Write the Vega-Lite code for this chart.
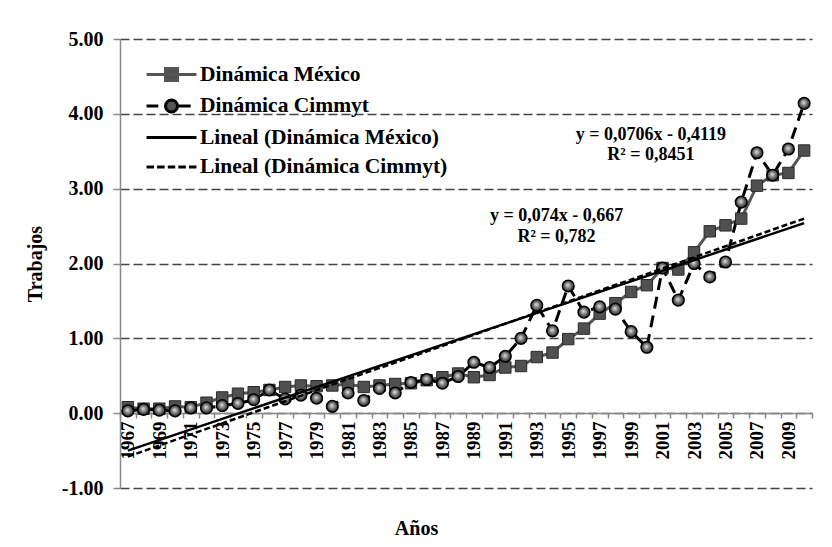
{
  "$schema": "https://vega.github.io/schema/vega-lite/v6.json",
  "width": 692,
  "height": 449,
  "autosize": "none",
  "padding": {"left": 120, "top": 39, "right": 20, "bottom": 59},
  "background": "white",
  "config": {
    "view": {"stroke": null},
    "font": "Liberation Serif",
    "axis": {
      "labelFont": "Liberation Serif",
      "labelFontWeight": "bold",
      "labelFontSize": 19,
      "labelColor": "black",
      "titleFont": "Liberation Serif",
      "titleFontWeight": "bold",
      "titleFontSize": 20,
      "titleColor": "black",
      "domainColor": "#888888",
      "domainWidth": 1.5,
      "tickColor": "#888888",
      "tickWidth": 1.5
    }
  },
  "datasets": {
    "obs": [
      {"year": 1967, "series": "Dinámica México", "value": 0.08},
      {"year": 1968, "series": "Dinámica México", "value": 0.06},
      {"year": 1969, "series": "Dinámica México", "value": 0.06},
      {"year": 1970, "series": "Dinámica México", "value": 0.09},
      {"year": 1971, "series": "Dinámica México", "value": 0.08},
      {"year": 1972, "series": "Dinámica México", "value": 0.14},
      {"year": 1973, "series": "Dinámica México", "value": 0.21},
      {"year": 1974, "series": "Dinámica México", "value": 0.26},
      {"year": 1975, "series": "Dinámica México", "value": 0.28},
      {"year": 1976, "series": "Dinámica México", "value": 0.31},
      {"year": 1977, "series": "Dinámica México", "value": 0.35},
      {"year": 1978, "series": "Dinámica México", "value": 0.37},
      {"year": 1979, "series": "Dinámica México", "value": 0.36},
      {"year": 1980, "series": "Dinámica México", "value": 0.37},
      {"year": 1981, "series": "Dinámica México", "value": 0.39},
      {"year": 1982, "series": "Dinámica México", "value": 0.35},
      {"year": 1983, "series": "Dinámica México", "value": 0.37},
      {"year": 1984, "series": "Dinámica México", "value": 0.39},
      {"year": 1985, "series": "Dinámica México", "value": 0.40},
      {"year": 1986, "series": "Dinámica México", "value": 0.44},
      {"year": 1987, "series": "Dinámica México", "value": 0.48},
      {"year": 1988, "series": "Dinámica México", "value": 0.53},
      {"year": 1989, "series": "Dinámica México", "value": 0.48},
      {"year": 1990, "series": "Dinámica México", "value": 0.51},
      {"year": 1991, "series": "Dinámica México", "value": 0.61},
      {"year": 1992, "series": "Dinámica México", "value": 0.63},
      {"year": 1993, "series": "Dinámica México", "value": 0.75},
      {"year": 1994, "series": "Dinámica México", "value": 0.81},
      {"year": 1995, "series": "Dinámica México", "value": 0.99},
      {"year": 1996, "series": "Dinámica México", "value": 1.13},
      {"year": 1997, "series": "Dinámica México", "value": 1.33},
      {"year": 1998, "series": "Dinámica México", "value": 1.47},
      {"year": 1999, "series": "Dinámica México", "value": 1.62},
      {"year": 2000, "series": "Dinámica México", "value": 1.71},
      {"year": 2001, "series": "Dinámica México", "value": 1.94},
      {"year": 2002, "series": "Dinámica México", "value": 1.92},
      {"year": 2003, "series": "Dinámica México", "value": 2.15},
      {"year": 2004, "series": "Dinámica México", "value": 2.43},
      {"year": 2005, "series": "Dinámica México", "value": 2.51},
      {"year": 2006, "series": "Dinámica México", "value": 2.60},
      {"year": 2007, "series": "Dinámica México", "value": 3.04},
      {"year": 2008, "series": "Dinámica México", "value": 3.18},
      {"year": 2009, "series": "Dinámica México", "value": 3.21},
      {"year": 2010, "series": "Dinámica México", "value": 3.51},
      {"year": 1967, "series": "Dinámica Cimmyt", "value": 0.03},
      {"year": 1968, "series": "Dinámica Cimmyt", "value": 0.05},
      {"year": 1969, "series": "Dinámica Cimmyt", "value": 0.04},
      {"year": 1970, "series": "Dinámica Cimmyt", "value": 0.03},
      {"year": 1971, "series": "Dinámica Cimmyt", "value": 0.07},
      {"year": 1972, "series": "Dinámica Cimmyt", "value": 0.07},
      {"year": 1973, "series": "Dinámica Cimmyt", "value": 0.10},
      {"year": 1974, "series": "Dinámica Cimmyt", "value": 0.13},
      {"year": 1975, "series": "Dinámica Cimmyt", "value": 0.18},
      {"year": 1976, "series": "Dinámica Cimmyt", "value": 0.31},
      {"year": 1977, "series": "Dinámica Cimmyt", "value": 0.19},
      {"year": 1978, "series": "Dinámica Cimmyt", "value": 0.24},
      {"year": 1979, "series": "Dinámica Cimmyt", "value": 0.20},
      {"year": 1980, "series": "Dinámica Cimmyt", "value": 0.09},
      {"year": 1981, "series": "Dinámica Cimmyt", "value": 0.27},
      {"year": 1982, "series": "Dinámica Cimmyt", "value": 0.17},
      {"year": 1983, "series": "Dinámica Cimmyt", "value": 0.33},
      {"year": 1984, "series": "Dinámica Cimmyt", "value": 0.27},
      {"year": 1985, "series": "Dinámica Cimmyt", "value": 0.41},
      {"year": 1986, "series": "Dinámica Cimmyt", "value": 0.45},
      {"year": 1987, "series": "Dinámica Cimmyt", "value": 0.40},
      {"year": 1988, "series": "Dinámica Cimmyt", "value": 0.49},
      {"year": 1989, "series": "Dinámica Cimmyt", "value": 0.68},
      {"year": 1990, "series": "Dinámica Cimmyt", "value": 0.61},
      {"year": 1991, "series": "Dinámica Cimmyt", "value": 0.76},
      {"year": 1992, "series": "Dinámica Cimmyt", "value": 1.00},
      {"year": 1993, "series": "Dinámica Cimmyt", "value": 1.44},
      {"year": 1994, "series": "Dinámica Cimmyt", "value": 1.10},
      {"year": 1995, "series": "Dinámica Cimmyt", "value": 1.70},
      {"year": 1996, "series": "Dinámica Cimmyt", "value": 1.35},
      {"year": 1997, "series": "Dinámica Cimmyt", "value": 1.42},
      {"year": 1998, "series": "Dinámica Cimmyt", "value": 1.39},
      {"year": 1999, "series": "Dinámica Cimmyt", "value": 1.09},
      {"year": 2000, "series": "Dinámica Cimmyt", "value": 0.88},
      {"year": 2001, "series": "Dinámica Cimmyt", "value": 1.94},
      {"year": 2002, "series": "Dinámica Cimmyt", "value": 1.51},
      {"year": 2003, "series": "Dinámica Cimmyt", "value": 2.00},
      {"year": 2004, "series": "Dinámica Cimmyt", "value": 1.82},
      {"year": 2005, "series": "Dinámica Cimmyt", "value": 2.02},
      {"year": 2006, "series": "Dinámica Cimmyt", "value": 2.82},
      {"year": 2007, "series": "Dinámica Cimmyt", "value": 3.48},
      {"year": 2008, "series": "Dinámica Cimmyt", "value": 3.18},
      {"year": 2009, "series": "Dinámica Cimmyt", "value": 3.53},
      {"year": 2010, "series": "Dinámica Cimmyt", "value": 4.14}
    ],
    "trend": [
      {"year": 1967, "series": "Lineal (Dinámica México)", "value": -0.50},
      {"year": 2010, "series": "Lineal (Dinámica México)", "value": 2.54},
      {"year": 1967, "series": "Lineal (Dinámica Cimmyt)", "value": -0.58},
      {"year": 2010, "series": "Lineal (Dinámica Cimmyt)", "value": 2.60}
    ],
    "notes": [
      {"year": 2000, "value": 3.72, "label": "y = 0,0706x - 0,4119"},
      {"year": 2000, "value": 3.45, "label": "R² = 0,8451"},
      {"year": 1994, "value": 2.63, "label": "y = 0,074x - 0,667"},
      {"year": 1994, "value": 2.36, "label": "R² = 0,782"}
    ],
    "keys": [
      {"series": "Dinámica México"},
      {"series": "Dinámica Cimmyt"},
      {"series": "Lineal (Dinámica México)"},
      {"series": "Lineal (Dinámica Cimmyt)"}
    ]
  },
  "layer": [
    {
      "data": {"name": "obs"},
      "transform": [{"filter": "datum.series == 'Dinámica México'"}],
      "mark": {"type": "line", "color": "#555555", "strokeWidth": 3},
      "encoding": {
        "x": {
          "field": "year",
          "type": "ordinal",
          "scale": {"type": "band", "paddingInner": 0, "paddingOuter": 0},
          "axis": {
            "title": "Años",
            "offset": -75,
            "labelAngle": -90,
            "labelAlign": "right",
            "labelBaseline": "middle",
            "labelPadding": 3,
            "labelOverlap": false,
            "labelExpr": "(+datum.value - 1967) % 2 == 0 ? datum.label : ''",
            "tickBand": "extent",
            "tickSize": 5,
            "grid": false,
            "titleX": 296,
            "titleY": 105,
            "titleBaseline": "top"
          }
        },
        "y": {
          "field": "value",
          "type": "quantitative",
          "scale": {"domain": [-1, 5], "nice": false, "zero": false},
          "axis": {
            "title": "Trabajos",
            "values": [-1, 0, 1, 2, 3, 4, 5],
            "format": ".2f",
            "labelExpr": "replace(datum.label, '\u2212', '-')",
            "labelFontSize": 20,
            "labelPadding": 10,
            "tickSize": 7,
            "grid": true,
            "gridColor": "#444444",
            "gridDash": [9, 4],
            "gridWidth": 1.5,
            "titlePadding": 16
          }
        }
      }
    },
    {
      "data": {"name": "obs"},
      "transform": [{"filter": "datum.series == 'Dinámica Cimmyt'"}],
      "mark": {"type": "line", "color": "#000000", "strokeWidth": 3, "strokeDash": [12, 7]},
      "encoding": {
        "x": {"field": "year", "type": "ordinal"},
        "y": {"field": "value", "type": "quantitative"}
      }
    },
    {
      "data": {"name": "obs"},
      "transform": [{"filter": "datum.series == 'Dinámica México'"}],
      "mark": {"type": "point", "shape": "square", "filled": true, "fill": "#505050", "stroke": "#2a2a2a", "strokeWidth": 1, "size": 130, "opacity": 1},
      "encoding": {
        "x": {"field": "year", "type": "ordinal"},
        "y": {"field": "value", "type": "quantitative"}
      }
    },
    {
      "data": {"name": "obs"},
      "transform": [{"filter": "datum.series == 'Dinámica Cimmyt'"}],
      "mark": {
        "type": "point",
        "shape": "circle",
        "filled": true,
        "size": 135,
        "opacity": 1,
        "stroke": "#000000",
        "strokeWidth": 1.5,
        "fill": {
          "gradient": "radial",
          "x1": 0.45, "y1": 0.42, "r1": 0,
          "x2": 0.5, "y2": 0.5, "r2": 0.55,
          "stops": [
            {"offset": 0, "color": "#e6e6e6"},
            {"offset": 0.45, "color": "#808080"},
            {"offset": 1, "color": "#151515"}
          ]
        }
      },
      "encoding": {
        "x": {"field": "year", "type": "ordinal"},
        "y": {"field": "value", "type": "quantitative"}
      }
    },
    {
      "data": {"name": "trend"},
      "transform": [{"filter": "datum.series == 'Lineal (Dinámica México)'"}],
      "mark": {"type": "line", "color": "#000000", "strokeWidth": 2.5},
      "encoding": {
        "x": {"field": "year", "type": "ordinal"},
        "y": {"field": "value", "type": "quantitative"}
      }
    },
    {
      "data": {"name": "trend"},
      "transform": [{"filter": "datum.series == 'Lineal (Dinámica Cimmyt)'"}],
      "mark": {"type": "line", "color": "#000000", "strokeWidth": 2.5, "strokeDash": [6, 3]},
      "encoding": {
        "x": {"field": "year", "type": "ordinal"},
        "y": {"field": "value", "type": "quantitative"}
      }
    },
    {
      "data": {"name": "notes"},
      "mark": {"type": "text", "font": "Liberation Serif", "fontWeight": "bold", "fontSize": 18, "color": "#000000", "align": "center", "baseline": "middle", "dx": 4},
      "encoding": {
        "x": {"field": "year", "type": "ordinal"},
        "y": {"field": "value", "type": "quantitative"},
        "text": {"field": "label", "type": "nominal"}
      }
    },
    {
      "data": {"name": "keys"},
      "mark": {"type": "point", "filled": true, "size": 576, "strokeWidth": 3, "opacity": 1},
      "encoding": {
        "y": {"field": "value", "type": "quantitative"},
        "shape": {
          "field": "series",
          "type": "nominal",
          "scale": {
            "domain": ["Dinámica México", "Dinámica Cimmyt", "Lineal (Dinámica México)", "Lineal (Dinámica Cimmyt)"],
            "range": [
              "M-2.08,0H2.08M-0.5,-0.5H0.5V0.5H-0.5Z",
              "M-2.08,0H-1.1M0.5,0H1.6M-0.5,0A0.5,0.5 0 1,1 0.5,0A0.5,0.5 0 1,1 -0.5,0Z",
              "M-2.08,0H2.08",
              "M-2.08,0H-1.46M-1.2,0H-0.57M-0.31,0H0.31M0.57,0H1.2M1.46,0H2.08"
            ]
          },
          "legend": {
            "title": null,
            "orient": "none",
            "legendX": 38,
            "legendY": 22,
            "padding": 0,
            "labelFont": "Liberation Serif",
            "labelFontWeight": "bold",
            "labelFontSize": 21.5,
            "labelColor": "#000000",
            "labelOffset": 15,
            "labelLimit": 400,
            "symbolSize": 576,
            "symbolStrokeWidth": 3,
            "rowPadding": 5.5
          }
        },
        "fill": {
          "field": "series",
          "type": "nominal",
          "scale": {
            "domain": ["Dinámica México", "Dinámica Cimmyt", "Lineal (Dinámica México)", "Lineal (Dinámica Cimmyt)"],
            "range": ["#505050", "#555555", "transparent", "transparent"]
          }
        },
        "stroke": {
          "field": "series",
          "type": "nominal",
          "scale": {
            "domain": ["Dinámica México", "Dinámica Cimmyt", "Lineal (Dinámica México)", "Lineal (Dinámica Cimmyt)"],
            "range": ["#555555", "#000000", "#000000", "#000000"]
          }
        }
      }
    }
  ]
}
